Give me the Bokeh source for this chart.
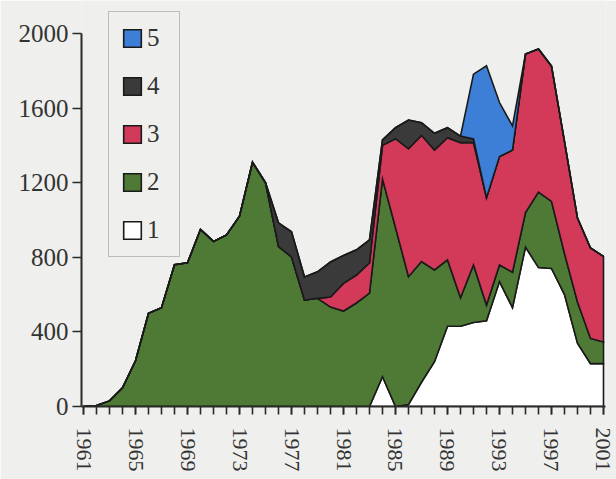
import numpy as np
from bokeh.plotting import figure
from bokeh.models import FixedTicker, Legend, LegendItem, ColumnDataSource, Range1d
from bokeh.embed import file_html
from bokeh.resources import INLINE

# ---- data ----
years = list(range(1961, 2002))
label_years = list(range(1961, 2002, 4))
y_ticks = [0, 400, 800, 1200, 1600, 2000]
series_names = ["1", "2", "3", "4", "5"]

series_1 = [0] * 23 + [160, 0, 10, 130, 240, 430, 430, 450, 460, 670, 530, 855,
                       745, 740, 600, 340, 230, 230]
series_2 = [0, 5, 30, 100, 245, 500, 530, 760, 770, 950, 885, 920, 1020, 1310, 1200,
            857, 802, 570, 580, 533, 512, 555, 608,
            1060, 960, 686, 647, 492, 356, 153, 309, 84, 89, 190, 185, 405, 360,
            220, 220, 135, 116]
series_3 = [0] * 19 + [54, 148, 150, 162, 180, 476, 686, 677, 643, 655, 832, 656,
                       576, 581, 655, 850, 767, 725, 600, 450, 485, 459]
series_4 = [0] * 15 + [128, 135, 125, 142, 188, 150, 135, 124, 30, 59, 154, 68, 90,
                       54, 35, 20] + [0] * 10
series_5 = [0] * 30 + [347, 707, 290, 129] + [0] * 7

colors = ["#ffffff", "#4e7a36", "#d33a5a", "#3a3a3a", "#3d7fd6"]
BG = "#efefed"
INK = "#2a2a2a"
FONT = "Liberation Serif"

p = figure(width=616, height=479, output_backend="svg", toolbar_location=None,
           x_range=Range1d(1960.846, 2001.154), y_range=Range1d(0, 2177),
           min_border_left=81, min_border_right=11, min_border_top=0,
           min_border_bottom=73, background_fill_color=BG, border_fill_color=BG,
           outline_line_color=None)
p.xgrid.visible = False
p.ygrid.visible = False

layers = [series_1, series_2, series_3, series_4, series_5]
base = np.zeros(len(years))
renderers = []
xs = np.array(years, dtype=float)
for vals, col in zip(layers, colors):
    top = base + np.array(vals, dtype=float)
    px = np.concatenate([xs, xs[::-1]])
    py = np.concatenate([top, base[::-1]])
    src = ColumnDataSource(dict(x=px, y=py))
    r = p.patch(x="x", y="y", source=src, fill_color=col, line_color="#1a1a1a",
                line_width=1.6, line_join="miter")
    renderers.append(r)
    base = top

# axes
xa = p.xaxis[0]
xa.ticker = FixedTicker(ticks=label_years, minor_ticks=years)
xa.major_tick_out = 8
xa.major_tick_in = 0
xa.minor_tick_out = 8
xa.minor_tick_in = 0
xa.major_label_orientation = "vertical"
xa.major_label_standoff = 13
ya = p.yaxis[0]
ya.ticker = FixedTicker(ticks=y_ticks)
ya.bounds = (0, 2000)
ya.major_tick_out = 9
ya.major_tick_in = 0
ya.minor_tick_out = 0
ya.minor_tick_in = 0
ya.major_label_standoff = 4
for ax in (xa, ya):
    ax.axis_line_width = 2
    ax.axis_line_color = INK
    ax.major_tick_line_color = INK
    ax.minor_tick_line_color = INK
    ax.major_tick_line_width = 1.6
    ax.minor_tick_line_width = 1.6
    ax.major_label_text_font = FONT
    ax.major_label_text_color = "#333333"
xa.major_label_text_font_size = "22px"
ya.major_label_text_font_size = "25px"

items = [LegendItem(label=series_names[i], renderers=[renderers[i]]) for i in range(4, -1, -1)]
legend = Legend(items=items, location=(27, 149), margin=0, padding=12,
                spacing=20, glyph_width=22, glyph_height=22, label_height=22,
                label_standoff=4, label_text_font=FONT, label_text_font_size="25px",
                label_text_color="#333333", border_line_color="#8a8a8a",
                border_line_width=1, background_fill_alpha=0)
p.add_layout(legend)

open("out.html", "w").write(file_html(p, INLINE))
